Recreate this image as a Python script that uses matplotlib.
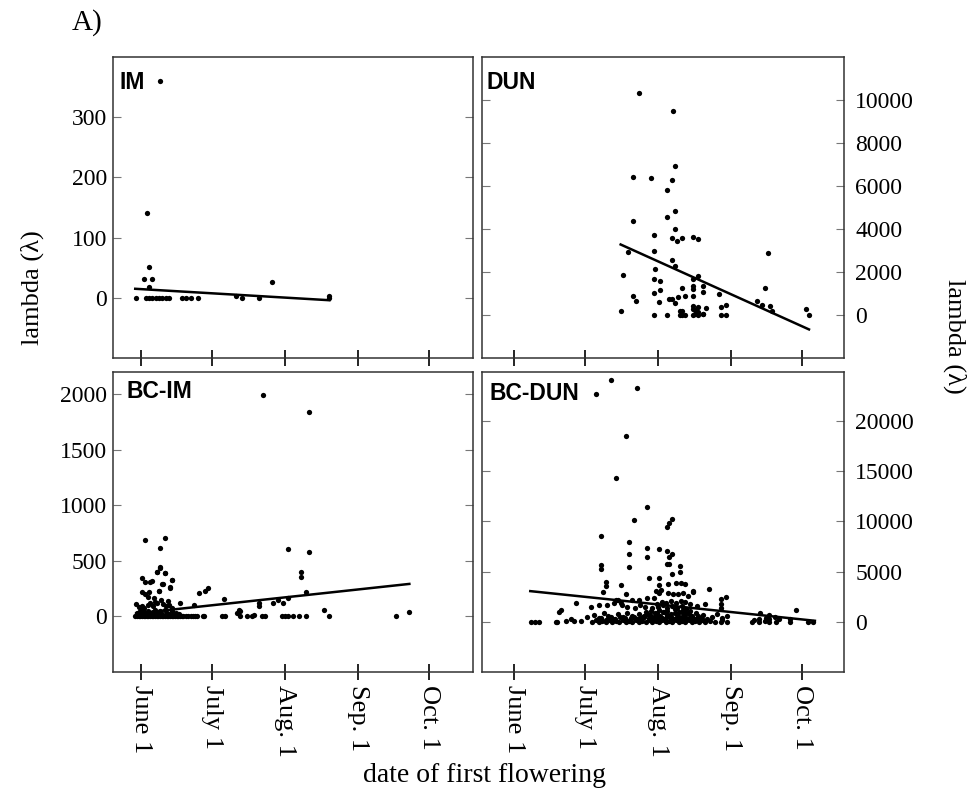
import matplotlib.pyplot as plt

# x axis: day of year, ticks on the first of each month
month_days = [152, 182, 213, 244, 274]
month_labels = ['June 1', 'July 1', 'Aug. 1', 'Sep. 1', 'Oct. 1']

# IM
im_day = [150.0, 153.4, 154.1, 154.4, 155.5, 155.5, 155.5, 156.5, 156.9, 158.3, 159.7, 160.0,
          161.1, 162.5, 163.9, 169.3, 171.2, 173.2, 176.1, 192.2, 194.6, 202.1, 207.6, 231.4, 231.6]
im_val = [0, 32, 0, 141, 52, 18, 0, 32, 0, 0, 0, 361,
          0, 0, 0, 0, 0, 0, 0, 3, 0, 0, 26, 0, 3]
im_fit_day = [149.6, 231.7]
im_fit_val = [15, -4]

# DUN
dun_day = [204.9, 219.2, 220.1, 202.5, 210.1, 219.0, 216.8, 220.1, 216.6, 202.5, 220.1, 211.4,
           219.0, 221.1, 223.3, 227.8, 230.0, 200.3, 211.4, 219.0, 220.1, 211.7, 198.3, 230.0,
           227.8, 211.4, 213.7, 223.3, 227.8, 227.8, 232.0, 211.4, 213.7, 232.0, 238.6, 202.5,
           203.8, 213.4, 217.8, 219.0, 220.1, 221.3, 224.4, 227.8, 227.8, 230.0, 233.1, 239.6,
           241.9, 258.2, 259.5, 254.8, 257.1, 260.4, 261.3, 275.7, 276.8, 197.2, 211.4, 216.6,
           222.3, 223.3, 224.4, 227.8, 228.8, 230.0, 232.0, 239.6, 241.9, 222.3, 223.3, 227.8,
           228.8, 230.0, 232.0]
dun_val = [10350, 9490, 6930, 6420, 6390, 6260, 5800, 4860, 4550, 4380, 4010, 3740,
           3590, 3450, 3590, 3620, 3540, 2920, 2970, 2580, 2300, 2130, 1880, 1830,
           1680, 1680, 1570, 1260, 1370, 1210, 1370, 1030, 1170, 1060, 980, 900,
           670, 590, 745, 745, 560, 820, 870, 900, 430, 360, 310, 390,
           480, 1260, 2900, 670, 480, 430, 200, 280, 15, 170, 0, 0,
           0, 0, 0, 0, 60, 0, 30, 0, 0, 200, 170, 280,
           230, 120, 45]
dun_fit_day = [197.2, 276.8]
dun_fit_val = [3280, -670]

# BC-IM
bcim_day = [149.6, 150.3, 151.0, 151.7, 152.4, 153.1, 153.8, 154.5, 155.2, 155.9, 156.6, 157.3,
            158.0, 158.7, 159.4, 160.1, 160.8, 161.5, 162.2, 162.9, 163.6, 164.3, 165.0, 165.7,
            166.4, 167.1, 167.8, 168.5, 169.2, 170.0, 171.0, 172.0, 173.0, 174.0, 175.0, 175.7,
            150.5, 151.5, 152.5, 153.0, 154.0, 155.0, 156.0, 157.0, 158.0, 159.0, 160.0, 161.0,
            162.0, 163.0, 164.0, 165.0, 166.0, 167.0, 168.0,
            150.0, 151.0, 152.4, 153.5, 155.0, 156.0, 157.0, 158.0, 159.0, 160.5, 161.5, 162.5,
            163.4, 164.0, 165.0, 168.6, 174.3, 157.5,
            153.8, 162.2, 160.2, 160.2, 158.8, 162.3, 152.4, 153.8, 155.9, 165.1, 160.9, 164.4,
            159.7, 152.4, 153.8, 155.2, 176.4, 179.2, 180.4, 187.0, 160.0, 158.8, 162.0, 165.3,
            156.9, 161.3, 164.4, 159.8, 155.5,
            178.2, 178.5, 186.3, 187.4, 192.6, 193.6, 193.8, 196.9, 199.0, 200.0, 203.2, 204.4,
            211.7, 212.8, 214.1, 216.2, 218.7, 222.0, 231.5, 260.0, 265.3, 193.7, 229.6,
            202.1, 202.1, 207.7, 209.8, 212.0, 214.3, 222.0, 219.6, 219.6, 223.2, 214.3,
            203.5, 223.2]
bcim_val = [0, 0, 0, 0, 0, 0, 0, 0, 0, 0, 0, 0,
            0, 0, 0, 0, 0, 0, 0, 0, 0, 0, 0, 0,
            0, 0, 0, 0, 0, 0, 0, 0, 0, 0, 0, 0,
            30, 45, 20, 60, 35, 50, 25, 40, 55, 30, 45, 20,
            60, 35, 25, 45, 15, 30, 20,
            110, 84, 90, 75, 100, 120, 95, 130, 119, 149, 110, 90,
            140, 100, 80, 125, 105, 170,
            687, 702, 613, 434, 403, 389, 344, 314, 314, 329, 290, 260,
            230, 224, 203, 179, 215, 230, 260, 156, 442, 403, 388, 329,
            320, 290, 263, 233, 218,
            0, 0, 0, 0, 30, 60, 0, 0, 0, 15, 0, 0,
            0, 0, 0, 0, 0, 0, 6, 0, 39, 45, 60,
            120, 90, 120, 149, 120, 164, 218, 403, 358, 577, 607,
            1990, 1844]
bcim_fit_day = [150.0, 265.5]
bcim_fit_val = [27, 293]

# BC-DUN
bcdun_day = [186.7, 193.3, 204.2, 199.6, 195.1, 208.2, 202.7, 216.9, 217.8, 219.0, 188.8, 200.6,
             200.6, 208.2, 208.2, 213.5, 216.6, 219.0, 217.7, 188.8, 188.8, 200.6, 216.6, 217.8,
             222.2, 222.2, 219.0, 209.3, 213.5, 190.9, 190.9, 189.8, 197.5,
             213.2, 217.1, 220.6, 222.7, 224.5, 212.0, 213.5, 214.2, 217.1, 219.2, 221.3, 223.7,
             225.5, 227.9, 234.4, 227.8, 199.3, 202.1, 205.0, 208.5, 211.3, 195.9, 197.3, 178.2,
             241.8, 239.7, 194.3, 195.2,
             184.5, 188.0, 191.5, 197.8, 199.9, 203.4, 205.5, 207.6, 210.4, 213.0, 215.0, 217.0,
             219.0, 221.0, 223.0, 225.0, 229.5, 233.0, 239.7, 239.7, 171.9, 171.2, 271.3, 256.2,
             260.1, 258.7,
             176.1, 183.0, 186.0, 188.0, 190.0, 192.0, 194.0, 196.0, 198.0, 200.0, 202.0, 203.5,
             205.0, 206.5, 208.0, 209.5, 211.0, 212.5, 214.0, 215.5, 217.0, 218.5, 220.0, 221.5,
             223.0, 224.5, 226.0, 227.5, 229.0, 230.5, 232.0, 233.5, 236.0, 238.0, 240.0, 242.0,
             255.5, 260.1, 262.5, 264.0, 268.8,
             210.0, 211.5, 213.0, 214.5, 216.0, 217.5, 219.5, 221.0, 222.5, 224.0, 225.5, 227.0,
             228.5, 230.0, 231.5, 199.0, 201.5, 204.0, 206.0, 207.0,
             189.0, 191.0, 193.0, 195.0, 197.0, 199.0, 201.0, 203.0, 205.0, 207.0, 209.0, 211.0,
             213.0, 215.0, 217.0, 219.0, 221.0, 223.0, 225.0, 227.0, 229.0, 231.0,
             208.5, 210.0, 211.8, 213.6, 215.2, 216.8, 218.4, 220.2, 221.8, 223.4, 225.0, 226.6,
             212.5, 214.5, 216.5, 218.5, 220.5, 222.5, 224.5, 226.5,
             159.3, 161.0, 162.8, 169.8, 170.3, 174.0, 177.5, 180.4, 185.3, 186.7, 188.1, 189.5,
             190.9, 192.3, 193.7, 195.2, 196.6, 198.0, 199.3, 200.7, 202.1, 203.6, 205.0, 206.4,
             207.8, 209.2, 210.6, 212.0, 213.4, 214.8, 216.2, 217.6, 219.0, 220.4, 221.8, 223.2,
             224.6, 226.0, 227.4, 228.8, 230.2, 231.5, 233.0, 235.0, 237.0, 239.5, 240.0, 242.0,
             252.7, 253.5, 255.5, 258.0, 260.1, 263.0, 268.8, 276.5, 278.6]
bcdun_val = [22650, 24050, 23220, 18480, 14260, 11410, 10120, 9450, 9850, 10220, 8520, 7890,
             6730, 7360, 6400, 7230, 7030, 6730, 6400, 5670, 5210, 5470, 5740, 5740,
             5540, 4980, 4740, 4310, 4310, 3980, 3550, 2985, 3650,
             3700, 3750, 3880, 3810, 3720, 3050, 2890, 3150, 2890, 2720, 2720, 2890,
             2550, 3050, 3220, 2985, 2720, 2160, 2160, 2330, 2330, 2160, 1830, 1830,
             2490, 2230, 1830, 2160,
             1490, 1660, 1660, 1660, 1490, 1330, 1660, 1490, 1330, 1500, 1700, 1400,
             1600, 1350, 1550, 1250, 1590, 1730, 1730, 1330, 1160, 995, 1160, 900,
             660, 400,
             260, 500, 700, 400, 850, 550, 300, 750, 450, 900, 600, 300,
             800, 500, 950, 650, 350, 850, 550, 1000, 700, 400, 900, 600,
             1000, 450, 800, 550, 900, 400, 700, 300, 500, 800, 350, 600,
             230, 300, 450, 300, 300,
             250, 450, 200, 400, 300, 550, 250, 450, 300, 600, 250, 450,
             300, 550, 250, 200, 400, 250, 350, 500,
             350, 200, 450, 250, 500, 350, 200, 450, 250, 550, 350, 200,
             450, 300, 550, 350, 250, 500, 300, 450, 250, 350,
             750, 1100, 850, 1200, 950, 1100, 800, 1250, 1000, 1150, 850, 1050,
             1800, 2000, 1900, 2100, 1850, 2050, 1950, 1750,
             0, 0, 0, 0, 0, 100, 100, 100, 0, 150, 0, 100,
             0, 150, 0, 100, 0, 150, 0, 100, 0, 150, 0, 100,
             0, 150, 0, 100, 0, 150, 0, 100, 0, 150, 0, 100,
             0, 150, 0, 100, 0, 150, 0, 100, 0, 0, 200, 0,
             0, 200, 0, 100, 0, 0, 0, 0, 0]
bcdun_fit_day = [159.0, 279.3]
bcdun_fit_val = [3050, 100]

serif = 'Liberation Serif'
sans = 'Liberation Sans'

fig = plt.figure(figsize=(9.7, 7.91), dpi=100)

panels = [
    # rect, name, x, y, fit x, fit y, xlim, ylim, yticks, label side, name position
    ([0.116, 0.5474, 0.3716, 0.3805], 'IM', im_day, im_val, im_fit_day, im_fit_val,
     (140, 292.4), (-100, 400), [0, 100, 200, 300], 'left', (0.019, 0.917)),
    ([0.4974, 0.5474, 0.3727, 0.3805], 'DUN', dun_day, dun_val, dun_fit_day, dun_fit_val,
     (138.8, 291.6), (-2000, 12000), [0, 2000, 4000, 6000, 8000, 10000], 'right', (0.01, 0.915)),
    ([0.116, 0.1504, 0.3716, 0.3793], 'BC-IM', bcim_day, bcim_val, bcim_fit_day, bcim_fit_val,
     (140, 292.4), (-500, 2200), [0, 500, 1000, 1500, 2000], 'left', (0.039, 0.934)),
    ([0.4974, 0.1504, 0.3727, 0.3793], 'BC-DUN', bcdun_day, bcdun_val, bcdun_fit_day, bcdun_fit_val,
     (138.8, 291.6), (-5000, 24850), [0, 5000, 10000, 15000, 20000], 'right', (0.019, 0.929)),
]

for i, (rect, name, xs, ys, fx, fy, xlim, ylim, yticks, side, lab) in enumerate(panels):
    ax = fig.add_axes(rect)
    ax.plot(xs, ys, 'o', color='black', markersize=3.8, markeredgewidth=0, clip_on=False)
    ax.plot(fx, fy, '-', color='black', linewidth=1.8)
    ax.set_xlim(*xlim)
    ax.set_ylim(*ylim)
    for sp in ax.spines.values():
        sp.set_color('#333333')
        sp.set_linewidth(1.1)

    ax.set_xticks(month_days)
    ax.tick_params(axis='x', direction='inout', length=12, width=1.2, color='black', pad=3,
                   top=False, bottom=True)
    if i >= 2:
        ax.set_xticklabels(month_labels, rotation=270, fontfamily=serif, fontsize=19,
                           ha='center', va='top')
    else:
        ax.set_xticklabels([])

    ax.set_yticks(yticks)
    ax.tick_params(axis='y', direction='in', length=6, width=0.8, color='#777777',
                   left=True, right=True,
                   labelleft=(side == 'left'), labelright=(side == 'right'),
                   labelsize=17, pad=4 if side == 'left' else 8)
    for t in ax.get_yticklabels():
        t.set_fontfamily(serif)

    ax.text(lab[0], lab[1], name, transform=ax.transAxes, fontfamily=sans,
            fontweight='bold', fontsize=16.5, ha='left', va='center')

fig.text(0.0897, 0.972, 'A)', fontfamily=serif, fontsize=21, ha='center', va='center')
fig.text(0.033, 0.636, 'lambda (\u03bb)', fontfamily=serif, fontsize=19, rotation=90,
         ha='center', va='center')
fig.text(0.984, 0.575, 'lambda (\u03bb)', fontfamily=serif, fontsize=19, rotation=270,
         ha='center', va='center')
fig.text(0.5, 0.02, 'date of first flowering', fontfamily=serif, fontsize=20,
         ha='center', va='center')

fig.savefig('out.png', dpi=100)
